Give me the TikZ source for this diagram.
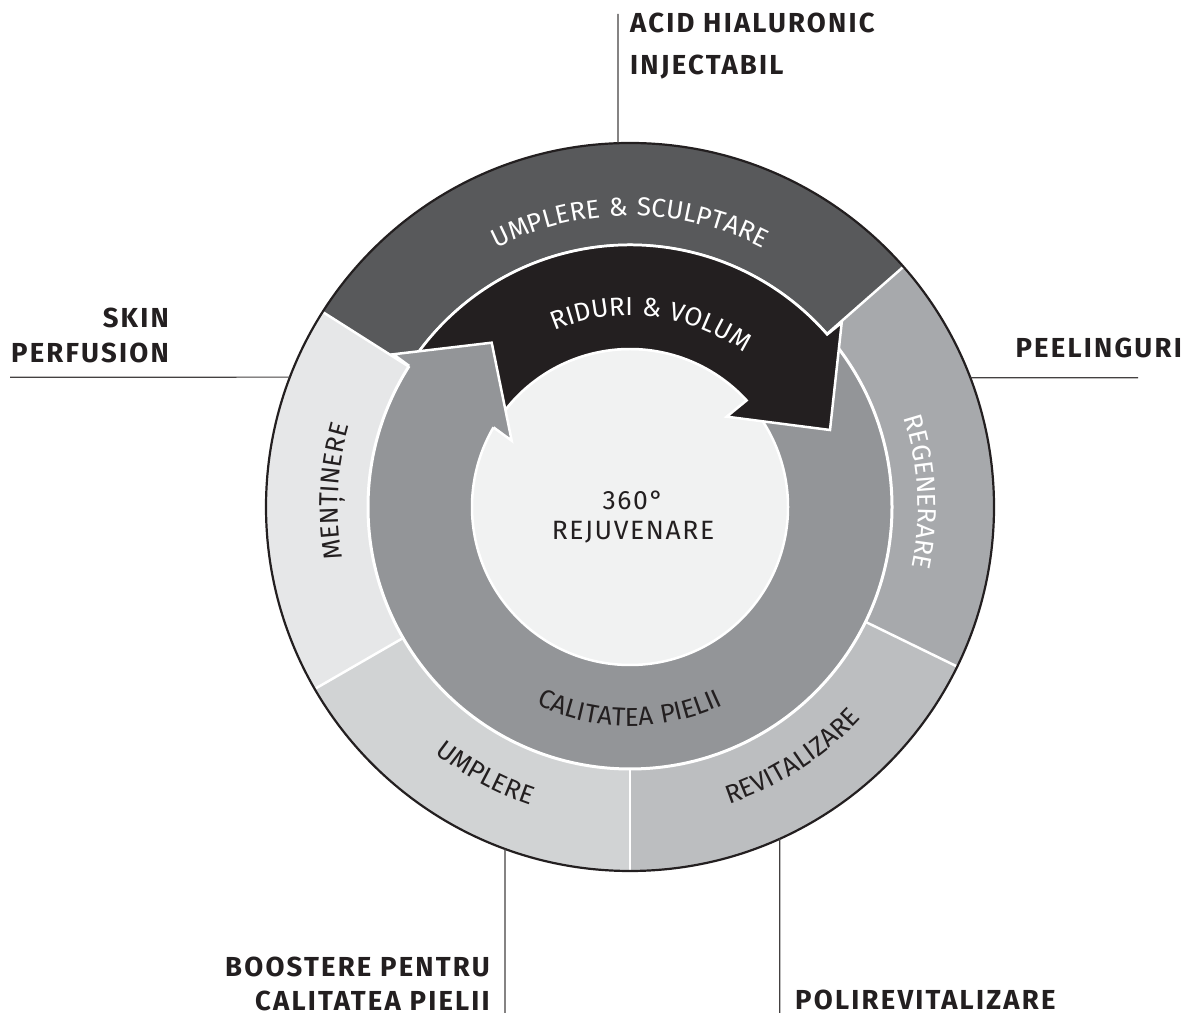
\documentclass[tikz,border=0pt]{standalone}
\usepackage{fontspec}
\setmainfont{Fira Sans}
\newfontfamily\lblfont[LetterSpace=8]{Fira Sans}
\newfontfamily\ringfont[LetterSpace=6]{Fira Sans}
\usetikzlibrary{decorations.text}
\definecolor{cdark}{HTML}{58595B}
\definecolor{cment}{HTML}{E6E7E8}
\definecolor{cumpl}{HTML}{D1D3D4}
\definecolor{crevi}{HTML}{BCBEC0}
\definecolor{cregen}{HTML}{A7A9AC}
\definecolor{cmid}{HTML}{939598}
\definecolor{cinner}{HTML}{F1F2F2}
\definecolor{cblack}{HTML}{231F20}
\newcommand\ringw{\ringfont\fontsize{26}{26}\selectfont\color{white}}
\newcommand\ringd{\ringfont\fontsize{26}{26}\selectfont\color{cblack}}
\begin{document}
\begin{tikzpicture}[x=1pt,y=1pt,
  conn/.style={draw=cblack!85, line width=1.2pt},
  lbl/.style={font=\lblfont\fontsize{27.5}{30}\selectfont\bfseries, text=cblack, inner sep=0pt},
  ctr/.style={font=\ringfont\fontsize{26.5}{26.5}\selectfont, text=cblack, inner sep=0pt},
  sep/.style={white, line width=2.5pt},
  wline/.style={white, line width=2.5pt, line join=miter},
  ringtext/.style={decorate, decoration={text along path, text align=center, text={#1}}}]
\useasboundingbox (0,0) rectangle (1186,1016);
\coordinate (C) at (630,509);
% outer ring sectors
\fill[cdark] (C) -- ([shift={(41.3:364pt)}]C) arc[start angle=41.3, end angle=147.6, radius=364pt] -- cycle;
\fill[cment] (C) -- ([shift={(147.6:364pt)}]C) arc[start angle=147.6, end angle=210, radius=364pt] -- cycle;
\fill[cumpl] (C) -- ([shift={(210:364pt)}]C) arc[start angle=210, end angle=270, radius=364pt] -- cycle;
\fill[crevi] (C) -- ([shift={(270:364pt)}]C) arc[start angle=270, end angle=334, radius=364pt] -- cycle;
\fill[cregen] (C) -- ([shift={(334:364pt)}]C) arc[start angle=334, end angle=401.3, radius=364pt] -- cycle;
\foreach \a in {41.3,147.6,210,270,334}
  \draw[sep] ([shift={(\a:250pt)}]C) -- ([shift={(\a:366pt)}]C);
\draw[cblack, line width=2.2pt] (C) circle[radius=364pt];
% middle and inner discs
\fill[cmid] (C) circle[radius=262pt];
\fill[cinner] (C) circle[radius=158pt];
\draw[white, line width=3pt] (C) circle[radius=262pt];
\draw[white, line width=2.5pt] (C) circle[radius=158pt];
% arrow points
\coordinate (Vg) at ([shift={(-220.8,141.1)}]C);
\coordinate (Og) at ([shift={(-236.7,152.7)}]C);
\coordinate (Tg) at ([shift={(-138.3,164.3)}]C);
\coordinate (Ig) at ([shift={(-118.3,66.3)}]C);
\coordinate (Ng) at ([shift={(-136.5,79.6)}]C);
\coordinate (Ob) at ([shift={(211.7,184.3)}]C);
\coordinate (Tb) at ([shift={(200,77)}]C);
\coordinate (Ib) at ([shift={(96.7,90.3)}]C);
\coordinate (Nb) at ([shift={(116.6,106.6)}]C);
\coordinate (Tail) at ([shift={(145.8:262pt)}]C);
% black arrow (its tail hides under the grey head)
\fill[cblack] (Tail) arc[start angle=145.8, end angle=41.18, radius=262pt] -- (Ob) -- (Tb) -- (Ib) -- (Nb)
  arc[start angle=42.43, end angle=148.2, radius=158pt] -- cycle;
\draw[wline] (Vg) arc[start angle=147.42, end angle=41.18, radius=262pt] -- (Ob) -- (Tb) -- (Ib) -- (Nb)
  arc[start angle=42.43, end angle=149.75, radius=158pt];
% grey arrow head
\fill[cmid] (Vg) -- (Og) -- (Tg) -- (Ig) -- (Ng) -- cycle;
\draw[wline] (Vg) -- (Og) -- (Tg) -- (Ig) -- (Ng);
% ring texts
\path[ringtext={|\ringw|UMPLERE {\&} SCULPTARE}] ([shift={(150:291pt)}]C) arc[start angle=150, end angle=30, radius=291pt];
\path[ringtext={|\ringw|RIDURI {\&} VOLUM}] ([shift={(133.4:191.5pt)}]C) arc[start angle=133.4, end angle=33.4, radius=191.5pt];
\path[ringtext={|\ringd|CALITATEA PIELII}] ([shift={(220:219pt)}]C) arc[start angle=220, end angle=320, radius=219pt];
\path[ringtext={|\ringd|MENȚINERE}] ([shift={(217:292pt)}]C) arc[start angle=217, end angle=137, radius=292pt];
\path[ringtext={|\ringw|REGENERARE}] ([shift={(43:288pt)}]C) arc[start angle=43, end angle=-37, radius=288pt];
\path[ringtext={|\ringd|REVITALIZARE}] ([shift={(-102:313pt)}]C) arc[start angle=-102, end angle=-12, radius=313pt];
\path[ringtext={|\ringd|UMPLERE}] ([shift={(196.5:314pt)}]C) arc[start angle=196.5, end angle=286.5, radius=314pt];
% centre text
\node[ctr, anchor=base] (t360) at (633,506) {360°};
\node[ctr, anchor=base] (trej) at (633,476) {REJUVENARE};
% outside labels
\node[lbl, anchor=base west] (acid1) at (630,983) {ACID HIALURONIC};
\node[lbl, anchor=base west] (acid2) at (630,941) {INJECTABIL};
\node[lbl, anchor=base east] (skin1) at (169,688) {SKIN};
\node[lbl, anchor=base east] (skin2) at (169,653) {PERFUSION};
\node[lbl, anchor=base east] (peel) at (1182,658) {PEELINGURI};
\node[lbl, anchor=base east] (boost1) at (490,39) {BOOSTERE PENTRU};
\node[lbl, anchor=base east] (boost2) at (490,5) {CALITATEA PIELII};
\node[lbl, anchor=base west] (poli) at (795,6) {POLIREVITALIZARE};
% connectors
\coordinate (acidC) at ([shift={(91.9:364pt)}]C);
\coordinate (acidT) at (618,1002);
\coordinate (skinC) at ([shift={(159.1:364pt)}]C);
\coordinate (skinE) at (10,638.8);
\coordinate (peelC) at ([shift={(20.8:364pt)}]C);
\coordinate (peelE) at (1138,638.3);
\coordinate (boostC) at ([shift={(249.9:364pt)}]C);
\coordinate (boostE) at (504.9,3);
\coordinate (poliC) at ([shift={(-65.7:364pt)}]C);
\coordinate (poliE) at (779.8,3);
\draw[conn] (acidT) -- (acidC);
\draw[conn] (skinE) -- (skinC);
\draw[conn] (peelC) -- (peelE);
\draw[conn] (boostC) -- (boostE);
\draw[conn] (poliC) -- (poliE);
\end{tikzpicture}
\end{document}
